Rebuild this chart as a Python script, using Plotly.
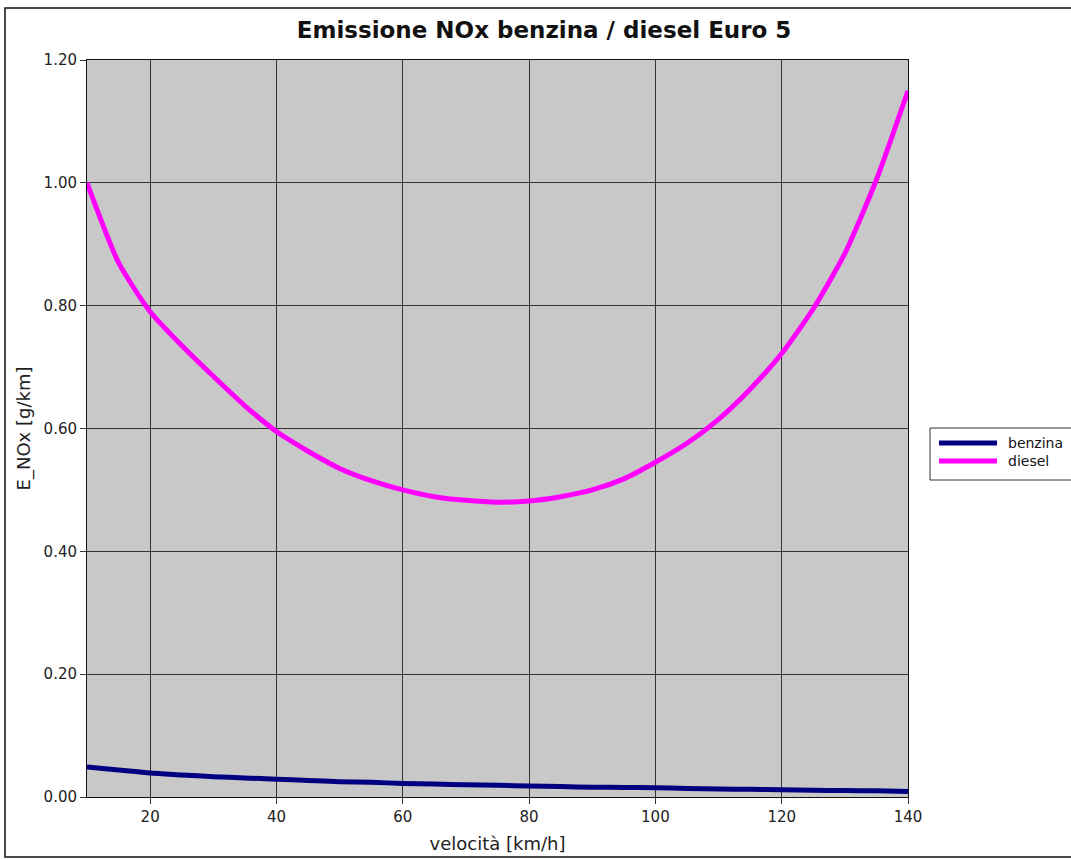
import plotly.graph_objects as go

speed = [10, 15, 20, 25, 30, 35, 40, 45, 50, 55, 60, 65, 70, 75, 80, 85, 90, 95,
         100, 105, 110, 115, 120, 125, 130, 135, 140]
diesel = [1.00, 0.87, 0.79, 0.735, 0.685, 0.637, 0.595, 0.563, 0.535, 0.515, 0.50, 0.489,
          0.483, 0.480, 0.482, 0.489, 0.500, 0.518, 0.545, 0.576, 0.615, 0.664, 0.722,
          0.795, 0.885, 1.005, 1.150]
benzina = [0.049, 0.044, 0.039, 0.036, 0.033, 0.031, 0.029, 0.027, 0.025, 0.024, 0.022,
           0.021, 0.020, 0.019, 0.018, 0.017, 0.016, 0.0155, 0.015, 0.014, 0.013, 0.0125,
           0.012, 0.011, 0.0105, 0.010, 0.009]
series_names = ["benzina", "diesel"]
series_colors = ["#000080", "#ff00ff"]
x_ticks = [20, 40, 60, 80, 100, 120, 140]
y_ticks = [0.0, 0.2, 0.4, 0.6, 0.8, 1.0, 1.2]

W, H = 1071, 859
L, R, T, B = 87, 163, 60, 62
pw, ph = W - L - R, H - T - B


def px(xp):
    return (xp - L) / pw


def py(yp):
    return (H - B - yp) / ph


fig = go.Figure()
for name, vals, col in zip(series_names, [benzina, diesel], series_colors):
    fig.add_trace(go.Scatter(x=speed, y=vals, mode="lines", name=name,
                             line=dict(color=col, width=5, shape="spline", smoothing=0.6),
                             showlegend=False))

font = "DejaVu Sans"
fig.update_layout(
    width=W, height=H,
    margin=dict(l=L, r=R, t=T, b=B, autoexpand=False),
    paper_bgcolor="white",
    plot_bgcolor="#c8c8c8",
    font=dict(family=font, color="#222222", size=15),
    title=dict(text="<b>Emissione NOx benzina / diesel Euro 5</b>",
               xref="container", x=0.508, xanchor="center",
               yref="container", y=1 - 30 / H, yanchor="middle",
               font=dict(family=font, size=23, color="#111111")),
    xaxis=dict(range=[10, 140], tickvals=x_ticks, showgrid=True, gridcolor="#333333",
               gridwidth=1, showline=True, linecolor="#111111", linewidth=1, mirror=True,
               ticks="outside", ticklen=6, tickcolor="#333333", zeroline=False,
               automargin=False,
               title=dict(text="velocità [km/h]", font=dict(size=18), standoff=12)),
    yaxis=dict(range=[0, 1.2], tickvals=y_ticks, tickformat=".2f", showgrid=True,
               gridcolor="#333333", gridwidth=1, showline=True, linecolor="#111111",
               linewidth=1, mirror=True, ticks="outside", ticklen=6, tickcolor="#333333",
               zeroline=False, automargin=False,
               title=dict(text="E_NOx [g/km]", font=dict(size=18), standoff=8)),
    showlegend=False,
)

# outer frame of the image
fig.add_shape(type="rect", xref="paper", yref="paper",
              x0=px(5), x1=px(1085), y0=py(857), y1=py(8),
              line=dict(color="#111111", width=1.5), fillcolor="rgba(0,0,0,0)", layer="below")

# legend box
fig.add_shape(type="rect", xref="paper", yref="paper",
              x0=px(930), x1=px(1085), y0=py(480), y1=py(428),
              line=dict(color="#333333", width=1), fillcolor="white")
for i, (name, col) in enumerate(zip(series_names, series_colors)):
    yy = 443 + 18 * i
    fig.add_shape(type="line", xref="paper", yref="paper",
                  x0=px(939), x1=px(997), y0=py(yy), y1=py(yy),
                  line=dict(color=col, width=5))
    fig.add_annotation(text=name, xref="paper", yref="paper", x=px(1006), y=py(yy),
                       xanchor="left", yanchor="middle", showarrow=False,
                       font=dict(size=14, color="#111111"))

fig.write_html("out.html")
